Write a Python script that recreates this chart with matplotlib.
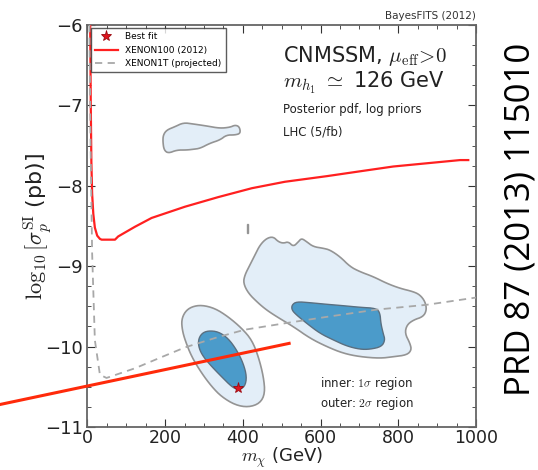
import matplotlib
matplotlib.use("Agg")
import matplotlib.pyplot as plt
import numpy as np

plt.rcParams["mathtext.fontset"] = "cm"
plt.rcParams["font.family"] = "DejaVu Sans"

# XENON100 (2012) limit
xenon100_m = [7, 8.5, 10, 12, 15, 19, 25, 32, 36.5, 70.8, 79, 122, 165, 251, 337,
              423, 508, 616, 701, 787, 873, 959, 980]
xenon100_s = [-6.0, -7.0, -7.7, -8.1, -8.35, -8.52, -8.62, -8.66, -8.67, -8.67,
              -8.63, -8.51, -8.40, -8.26, -8.14, -8.03, -7.95, -7.88, -7.82, -7.76,
              -7.72, -7.68, -7.68]

# XENON1T projected
xenon1t_m = [5, 8, 12, 19, 32, 49, 122, 191, 251, 337, 405, 508, 616, 744, 873, 1000]
xenon1t_s = [-6.0, -7.5, -8.84, -9.92, -10.35, -10.39, -10.27, -10.13, -10.01, -9.88,
             -9.79, -9.71, -9.63, -9.54, -9.48, -9.39]

# 2 sigma regions (outer)
outer_a_m = [195, 204, 225, 247, 272, 307, 341, 367, 380, 391, 394, 380, 358, 341,
             315, 290, 272, 255, 230, 208, 197, 194]
outer_a_s = [-7.368, -7.306, -7.265, -7.215, -7.231, -7.256, -7.285, -7.272, -7.244,
             -7.265, -7.347, -7.368, -7.368, -7.430, -7.471, -7.534, -7.546, -7.555,
             -7.555, -7.596, -7.555, -7.451]

outer_b_m = [401, 405, 418, 431, 444, 461, 478, 491, 504, 517, 530, 543, 551, 564,
             581, 607, 624, 650, 676, 701, 736, 770, 804, 839, 856, 869, 873, 864,
             839, 822, 817, 830, 834, 822, 787, 753, 701, 658, 616, 573, 530, 487,
             461, 440, 414]
outer_b_s = [-9.209, -9.109, -8.985, -8.861, -8.736, -8.653, -8.633, -8.695, -8.715,
             -8.695, -8.757, -8.695, -8.653, -8.695, -8.757, -8.777, -8.798, -8.882,
             -9.006, -9.068, -9.131, -9.213, -9.275, -9.317, -9.358, -9.441, -9.545,
             -9.628, -9.669, -9.731, -9.835, -9.959, -10.042, -10.104, -10.126,
             -10.146, -10.126, -10.083, -10.001, -9.897, -9.752, -9.628, -9.545,
             -9.461, -9.337]

outer_c_m = [242, 251, 268, 294, 328, 362, 397, 423, 440, 453, 457, 444, 414, 380,
             345, 320, 294, 268, 251, 244]
outer_c_s = [-9.669, -9.566, -9.504, -9.483, -9.524, -9.628, -9.772, -9.918, -10.126,
             -10.374, -10.581, -10.705, -10.755, -10.726, -10.623, -10.499, -10.332,
             -10.126, -9.918, -9.793]

speck_m = [410, 412, 412, 410]
speck_s = [-8.47, -8.47, -8.59, -8.59]

# 1 sigma regions (inner)
inner_b_m = [526, 538, 573, 616, 658, 701, 744, 753, 755, 761, 766, 757, 727, 701,
             667, 633, 598, 564, 538, 526]
inner_b_s = [-9.483, -9.441, -9.454, -9.474, -9.491, -9.511, -9.524, -9.586, -9.710,
             -9.835, -9.918, -10.001, -10.034, -10.034, -9.993, -9.918, -9.835,
             -9.710, -9.607, -9.545]

inner_c_m = [285, 294, 311, 337, 362, 384, 401, 410, 405, 388, 371, 345, 320, 298, 287]
inner_c_s = [-9.918, -9.835, -9.802, -9.815, -9.897, -10.042, -10.208, -10.374,
             -10.499, -10.540, -10.499, -10.374, -10.250, -10.126, -10.021]

best_fit_m = [388]
best_fit_s = [-10.51]

# red pointer line drawn across the frame
pointer_m = [-225, 519]
pointer_s = [-10.72, -9.96]


def smooth(xs, ys, n=2):
    """Chaikin corner cutting on a closed polygon."""
    pts = np.column_stack([xs, ys]).astype(float)
    for _ in range(n):
        nxt = np.roll(pts, -1, axis=0)
        q = 0.75 * pts + 0.25 * nxt
        r = 0.25 * pts + 0.75 * nxt
        pts = np.empty((2 * len(q), 2))
        pts[0::2] = q
        pts[1::2] = r
    return pts[:, 0], pts[:, 1]


light = "#e3eef8"
dark = "#4b9bca"
edge = "#949494"

fig = plt.figure(figsize=(5.38, 4.70), dpi=100)
ax = fig.add_axes([0.1626, 0.0915, 0.7222, 0.8553])

for xs, ys in [(outer_a_m, outer_a_s), (outer_b_m, outer_b_s), (outer_c_m, outer_c_s)]:
    sx, sy = smooth(xs, ys)
    ax.fill(sx, sy, facecolor=light, edgecolor=edge, linewidth=1.2, zorder=2)
ax.fill(speck_m, speck_s, facecolor=light, edgecolor=edge, linewidth=1.0, zorder=2)
for xs, ys in [(inner_b_m, inner_b_s), (inner_c_m, inner_c_s)]:
    sx, sy = smooth(xs, ys)
    ax.fill(sx, sy, facecolor=dark, edgecolor="#5a6f80", linewidth=1.0, zorder=3)

ax.plot(best_fit_m, best_fit_s, linestyle="none", marker="*", color="#e0141e",
        markeredgecolor="#9a0a10", markeredgewidth=0.6, markersize=8,
        label="Best fit", zorder=5)
ax.plot(xenon100_m, xenon100_s, color="#ff2020", linewidth=1.6,
        label="XENON100 (2012)", zorder=4)
ax.plot(xenon1t_m, xenon1t_s, color="#a8a8a8", linewidth=1.3, linestyle=(0, (4, 3)),
        label="XENON1T (projected)", zorder=4)

ax.plot(pointer_m, pointer_s, color="#ff2a0a", linewidth=2.2, clip_on=False, zorder=6)

ax.set_xlim(0, 1000)
ax.set_ylim(-11, -6)
ax.set_xticks([0, 200, 400, 600, 800, 1000])
ax.set_yticks([-11, -10, -9, -8, -7, -6])
ax.set_xticks(np.arange(0, 1001, 50), minor=True)
ax.set_yticks(np.arange(-11, -5.9, 0.25), minor=True)
ax.tick_params(which="both", direction="in", top=True, right=True, colors="#333333",
               labelcolor="#222222")
ax.tick_params(which="major", length=6, labelsize=13)
ax.tick_params(which="minor", length=3)
ax.tick_params(axis="x", which="major", pad=1.5, labelsize=12.5)
for s in ax.spines.values():
    s.set_color("#666666")
    s.set_linewidth(1.3)

ax.set_xlabel(r"$m_\chi$ (GeV)", fontsize=13, color="#222222")
ax.xaxis.label.set_va("bottom")
ax.xaxis.set_label_coords(0.5, -0.108)
ax.set_ylabel(r"$\log_{10}[\sigma_p^{\rm SI}$ (pb)]", fontsize=16, color="#222222")
ax.yaxis.set_label_coords(-0.085, 0.5)

leg = ax.legend(loc="upper left", fontsize=6.5, frameon=True, fancybox=False,
                borderaxespad=0.35, handlelength=2.6, labelspacing=0.5,
                numpoints=1, borderpad=0.45)
leg.get_frame().set_edgecolor("#333333")
leg.get_frame().set_linewidth(1.0)

ax.text(0.502, 0.908, r"CNMSSM, $\mu_{\rm eff}\!>\!0$", transform=ax.transAxes,
        fontsize=15, color="#222222", va="baseline")
ax.text(0.502, 0.843, r"$m_{h_1}\ \simeq$ 126 GeV", transform=ax.transAxes,
        fontsize=15, color="#222222", va="baseline")
ax.text(0.502, 0.789, "Posterior pdf, log priors", transform=ax.transAxes,
        fontsize=8.5, color="#222222", va="center")
ax.text(0.502, 0.734, "LHC (5/fb)", transform=ax.transAxes,
        fontsize=8.5, color="#222222", va="center")
ax.text(0.598, 0.109, r"inner: $1\sigma$ region", transform=ax.transAxes,
        fontsize=8.5, color="#222222", va="center")
ax.text(0.598, 0.058, r"outer: $2\sigma$ region", transform=ax.transAxes,
        fontsize=8.5, color="#222222", va="center")
ax.text(1.0, 1.01, "BayesFITS (2012)", transform=ax.transAxes, ha="right",
        va="bottom", fontsize=7.5, color="#333333")

fig.text(0.967, 0.534, "PRD 87 (2013) 115010", rotation=90, ha="center",
         va="center", fontsize=25, family="Open Sans", color="black")

fig.savefig("out.png", dpi=100)
